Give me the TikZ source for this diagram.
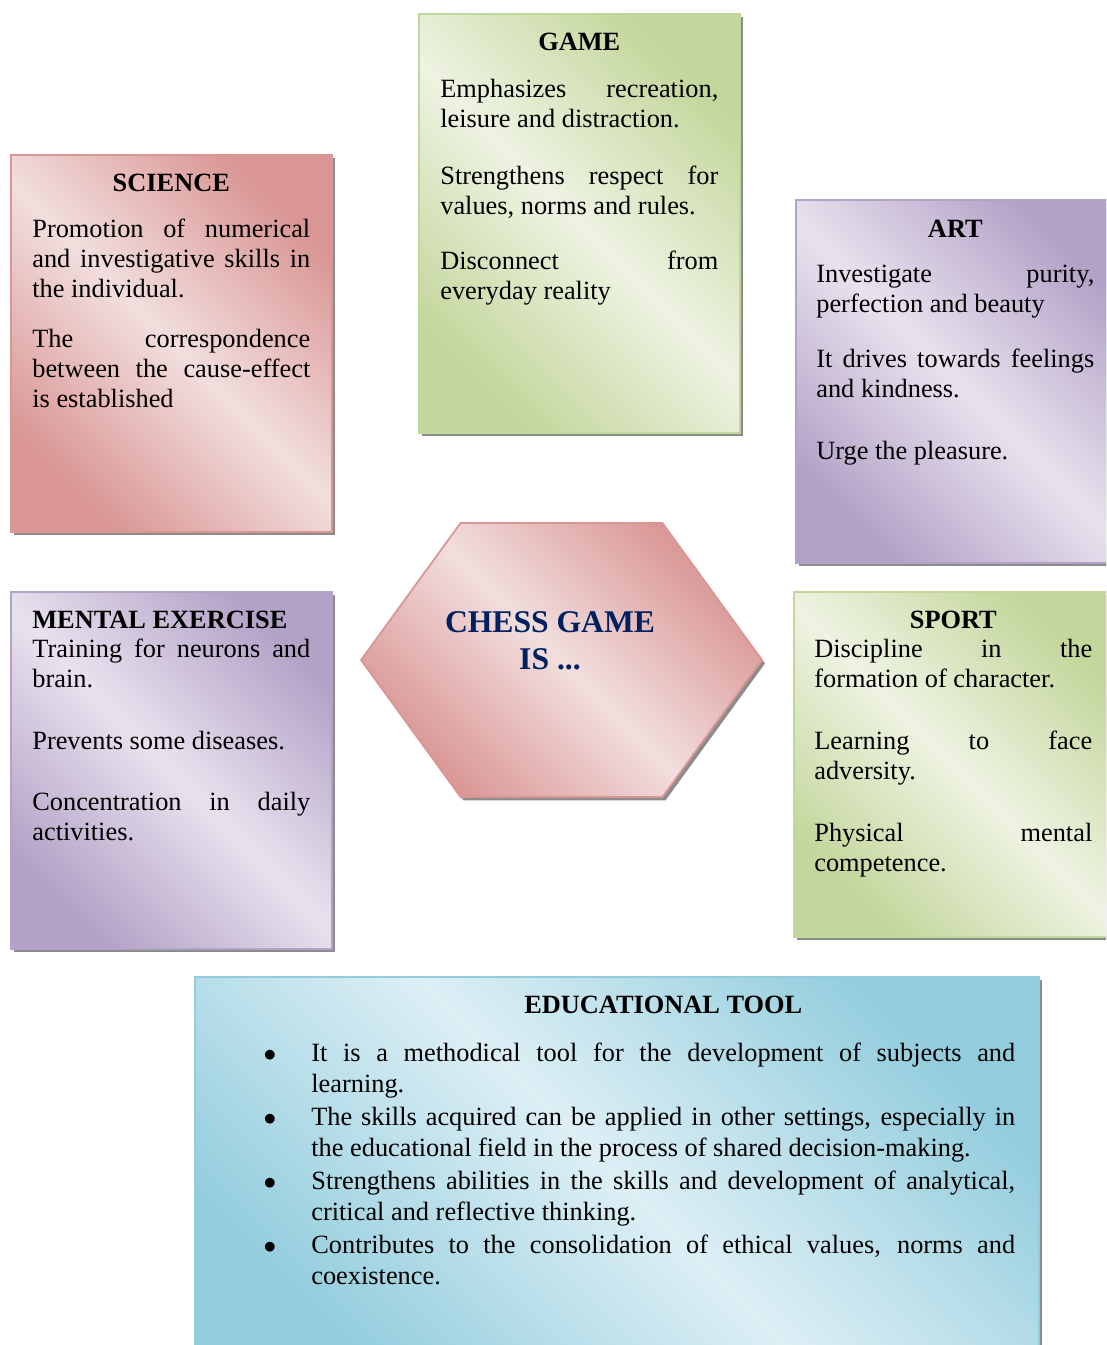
\documentclass[tikz,border=0pt]{standalone}
\usepackage{fontspec}
\setmainfont{Liberation Serif}
\usetikzlibrary{shadows,shapes.symbols}

\definecolor{roseDark}{HTML}{D99694}
\definecolor{roseLight}{HTML}{F2DEDE}
\definecolor{leafDark}{HTML}{C3D69B}
\definecolor{leafLight}{HTML}{EEF3E2}
\definecolor{lilacDark}{HTML}{B3A2C7}
\definecolor{lilacLight}{HTML}{E8E2EE}
\definecolor{skyDark}{HTML}{93CDDD}
\definecolor{skyLight}{HTML}{DDEFF5}
\definecolor{navy}{HTML}{002060}

\newcommand{\gap}[1]{\par\vspace{#1}}
\newcommand{\itm}{\noindent\llap{$\bullet$\hspace{0.7cm}}}

\begin{document}
\begin{tikzpicture}[x=0.02cm,y=-0.02cm,
  card/.style 2 args={draw=#1,line width=0.035cm,top color=#1,bottom color=#1,
    middle color=#2,shading angle=-45,anchor=north west,inner sep=0pt,
    drop shadow={shadow xshift=0.06cm,shadow yshift=-0.07cm,fill=black!45,opacity=1}},
  body/.style={text width=5.56cm,align=justify,anchor=base west,inner sep=0pt,
    font=\fontsize{15}{17.07}\selectfont},
  headline/.style={align=center,text=navy,inner sep=0pt,
    font=\fontsize{18}{21}\selectfont\bfseries}]
  \clip (0,0) rectangle (1106,1345);

  % side cards
  \node(science)[card={roseDark}{roseLight},minimum width=6.42cm,minimum height=7.54cm] at (10,154) {};
  \node(science text)[body] at (32,191) {\makebox[\linewidth]{\textbf{SCIENCE}}\gap{0.34cm}
    Promotion of numerical\linebreak and investigative skills in\linebreak the individual.\gap{0.4cm}
    The correspondence\linebreak between the cause-effect\linebreak is established};

  \node(game)[card={leafDark}{leafLight},minimum width=6.42cm,minimum height=8.38cm] at (418,13) {};
  \node(game text)[body] at (440,51) {\makebox[\linewidth]{\textbf{GAME}}\gap{0.34cm}
    Emphasizes recreation,\linebreak leisure and distraction.\gap{0.54cm}
    Strengthens respect for\linebreak values, norms and rules.\gap{0.5cm}
    Disconnect from\linebreak everyday reality};

  \node(art)[card={lilacDark}{lilacLight},minimum width=6.42cm,minimum height=7.26cm] at (795,199) {};
  \node(art text)[body] at (816,237) {\makebox[\linewidth]{\textbf{ART}}\gap{0.32cm}
    Investigate purity,\linebreak perfection and beauty\gap{0.5cm}
    It drives towards feelings\linebreak and kindness.\gap{0.64cm}
    Urge the pleasure.};

  \node(mental)[card={lilacDark}{lilacLight},minimum width=6.42cm,minimum height=7.14cm] at (10,591) {};
  \node(mental text)[body] at (32,628) {\textbf{MENTAL EXERCISE}\par
    Training for neurons and\linebreak brain.\gap{0.64cm}
    Prevents some diseases.\gap{0.62cm}
    Concentration in daily\linebreak activities.};

  \node(sport)[card={leafDark}{leafLight},minimum width=6.42cm,minimum height=6.9cm] at (793,591) {};
  \node(sport text)[body] at (814,628) {\makebox[\linewidth]{\textbf{SPORT}}\par
    Discipline in the\linebreak formation of character.\gap{0.64cm}
    Learning to face\linebreak adversity.\gap{0.64cm}
    Physical mental\linebreak competence.};

  % centre
  \node(chess)[signal,signal to=west and east,signal pointer angle=108,draw=roseDark,
    line width=0.035cm,top color=roseDark,bottom color=roseDark,middle color=roseLight,
    shading angle=-45,minimum width=8.02cm,minimum height=5.48cm,inner sep=0pt,
    drop shadow={shadow xshift=0.06cm,shadow yshift=-0.07cm,fill=black!45,opacity=1}] at (561.5,660) {};
  \node(chess text)[headline] at (550,641) {CHESS GAME\\IS ...};

  % bottom
  \node(tool)[card={skyDark}{skyLight},minimum width=16.88cm,minimum height=8cm] at (194,976) {};
  \node(tool text)[body,text width=14.08cm,font=\fontsize{15}{17.6}\selectfont] at (311,1013) {%
    \makebox[\linewidth]{\textbf{EDUCATIONAL TOOL}}\gap{0.36cm}
    \itm It is a methodical tool for the development of subjects and\linebreak learning.\gap{0.04cm}
    \itm The skills acquired can be applied in other settings, especially in\linebreak the educational field in the process of shared decision-making.\gap{0.04cm}
    \itm Strengthens abilities in the skills and development of analytical,\linebreak critical and reflective thinking.\gap{0.04cm}
    \itm Contributes to the consolidation of ethical values, norms and\linebreak coexistence.};
\end{tikzpicture}
\end{document}
